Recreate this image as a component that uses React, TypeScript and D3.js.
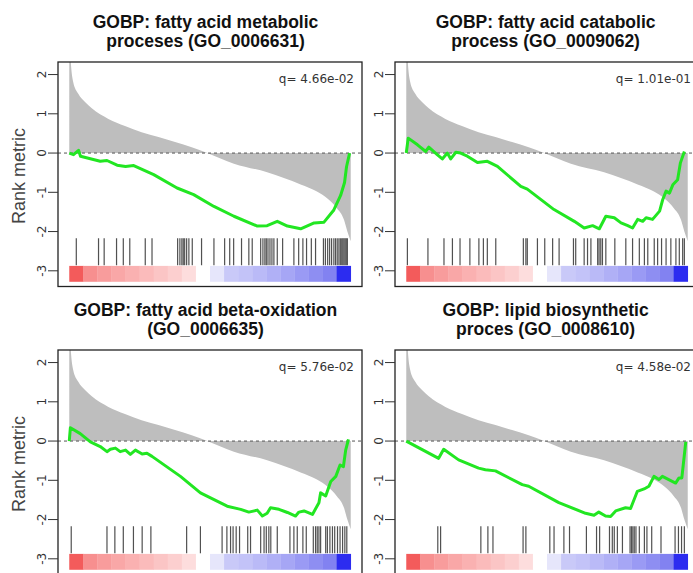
import React from 'react';
import * as d3 from 'd3';

const W = 693, H = 573;

// ranked gene list metric (same list in every panel)
const rankPos = [0, 0.004, 0.014, 0.032, 0.056, 0.08, 0.139, 0.198, 0.257, 0.317, 0.376, 0.435, 0.49, 0.585, 0.703, 0.822, 0.88, 0.916, 0.95, 0.976, 0.988, 1];
const rankVal = [3.5, 2.5, 1.81, 1.51, 1.3, 1.14, 0.87, 0.69, 0.53, 0.41, 0.28, 0.15, 0.0, -0.27, -0.49, -0.8, -0.98, -1.15, -1.4, -1.7, -2.0, -2.25];

const titles = [
  ['GOBP: fatty acid metabolic', 'proceses (GO_0006631)'],
  ['GOBP: fatty acid catabolic', 'process (GO_0009062)'],
  ['GOBP: fatty acid beta-oxidation', '(GO_0006635)'],
  ['GOBP: lipid biosynthetic', 'proces (GO_0008610)'],
];
const qLabels = ['q= 4.66e-02', 'q= 1.01e-01', 'q= 5.76e-02', 'q= 4.58e-02'];

// running enrichment score, panel by panel
const es1Pos = [0, 0.015, 0.033, 0.04, 0.11, 0.134, 0.17, 0.2, 0.229, 0.3, 0.383, 0.442, 0.514, 0.585, 0.668, 0.703, 0.739, 0.775, 0.822, 0.87, 0.905, 0.94, 0.964, 0.978, 0.985, 0.996];
const es1Val = [0, -0.04, 0.07, -0.08, -0.21, -0.19, -0.31, -0.34, -0.32, -0.55, -0.89, -1.06, -1.36, -1.61, -1.86, -1.85, -1.74, -1.86, -1.93, -1.78, -1.76, -1.45, -1.08, -0.75, -0.35, 0];

const es2Pos = [0, 0.007, 0.04, 0.069, 0.08, 0.11, 0.128, 0.146, 0.158, 0.176, 0.193, 0.217, 0.253, 0.288, 0.324, 0.407, 0.43, 0.525, 0.597, 0.632, 0.662, 0.686, 0.709, 0.739, 0.763, 0.787, 0.804, 0.822, 0.84, 0.852, 0.875, 0.9, 0.911, 0.923, 0.935, 0.947, 0.964, 0.974, 0.988];
const es2Val = [0, 0.38, 0.21, 0.04, 0.15, -0.04, -0.15, 0, -0.15, 0.02, 0, -0.08, -0.24, -0.21, -0.34, -0.85, -0.92, -1.44, -1.74, -1.91, -1.85, -1.93, -1.61, -1.65, -1.78, -1.85, -1.91, -1.69, -1.74, -1.65, -1.69, -1.48, -1.19, -0.97, -1.02, -0.81, -0.68, -0.25, 0.04];

const es3Pos = [0, 0.004, 0.039, 0.075, 0.11, 0.134, 0.146, 0.164, 0.181, 0.2, 0.217, 0.235, 0.259, 0.276, 0.294, 0.395, 0.466, 0.561, 0.609, 0.638, 0.668, 0.686, 0.703, 0.715, 0.745, 0.775, 0.804, 0.816, 0.834, 0.864, 0.887, 0.893, 0.911, 0.929, 0.947, 0.962, 0.974, 0.982, 0.992];
const es3Val = [0, 0.34, 0.19, -0.02, -0.14, -0.27, -0.21, -0.18, -0.27, -0.23, -0.34, -0.23, -0.33, -0.31, -0.39, -0.9, -1.32, -1.66, -1.74, -1.81, -1.76, -1.91, -1.84, -1.7, -1.74, -1.82, -1.91, -1.81, -1.78, -1.87, -1.57, -1.32, -1.4, -1.03, -0.9, -0.61, -0.65, -0.23, 0.04];

const es4Pos = [0, 0.115, 0.133, 0.186, 0.257, 0.281, 0.317, 0.412, 0.435, 0.542, 0.637, 0.667, 0.684, 0.708, 0.726, 0.744, 0.779, 0.797, 0.821, 0.845, 0.862, 0.88, 0.898, 0.91, 0.957, 0.969, 0.979, 0.993];
const es4Val = [0, -0.44, -0.21, -0.48, -0.69, -0.73, -0.76, -1.11, -1.15, -1.57, -1.84, -1.89, -1.81, -1.91, -1.92, -1.78, -1.7, -1.72, -1.28, -1.22, -1.15, -0.9, -0.98, -0.9, -1.07, -0.94, -0.94, -0.02];

// positions of gene-set members in the ranked list
const hits1 = [0.025, 0.104, 0.124, 0.168, 0.192, 0.215, 0.27, 0.294, 0.385, 0.393, 0.4, 0.405, 0.41, 0.417, 0.425, 0.437, 0.47, 0.514, 0.552, 0.57, 0.584, 0.612, 0.638, 0.65, 0.68, 0.688, 0.695, 0.7, 0.706, 0.713, 0.72, 0.727, 0.739, 0.758, 0.798, 0.815, 0.83, 0.843, 0.86, 0.875, 0.903, 0.91, 0.918, 0.925, 0.932, 0.94, 0.946, 0.952, 0.958, 0.963, 0.968, 0.972, 0.976, 0.98, 0.984, 0.988];
const hits2 = [0.004, 0.077, 0.134, 0.164, 0.191, 0.226, 0.258, 0.274, 0.288, 0.318, 0.416, 0.425, 0.43, 0.466, 0.492, 0.52, 0.543, 0.594, 0.602, 0.632, 0.644, 0.656, 0.68, 0.685, 0.691, 0.697, 0.709, 0.741, 0.78, 0.804, 0.828, 0.846, 0.858, 0.881, 0.893, 0.907, 0.923, 0.94, 0.958, 0.97, 0.982, 0.988];
const hits3 = [0.007, 0.134, 0.162, 0.192, 0.228, 0.259, 0.29, 0.417, 0.466, 0.543, 0.56, 0.573, 0.582, 0.593, 0.605, 0.634, 0.644, 0.68, 0.692, 0.7, 0.709, 0.716, 0.739, 0.784, 0.798, 0.81, 0.83, 0.842, 0.867, 0.875, 0.881, 0.887, 0.893, 0.911, 0.917, 0.926, 0.935, 0.943, 0.953, 0.962, 0.971, 0.979, 0.986];
const hits4 = [0.112, 0.122, 0.265, 0.29, 0.308, 0.415, 0.425, 0.51, 0.525, 0.56, 0.58, 0.64, 0.676, 0.687, 0.722, 0.732, 0.739, 0.75, 0.768, 0.795, 0.8, 0.805, 0.81, 0.816, 0.828, 0.846, 0.855, 0.872, 0.905, 0.955, 0.967, 0.978, 0.988];

// ranked-list colour bar, red (top) to blue (bottom)
const barColors = ['#f35b5b', '#f78f8f', '#f89c9c', '#f9a7a7', '#fab1b1', '#fbbbbb', '#fbc5c5', '#fccfcf', '#fddddd', '#ffffff', '#e6e6fb', '#c9c9f8', '#c3c3f8', '#babaf7', '#b0b0f6', '#a6a6f5', '#9a9af4', '#8e8ef2', '#8282f1', '#2c2cf0'];

const yTicks = [-3, -2, -1, 0, 1, 2];

const esPos = [es1Pos, es2Pos, es3Pos, es4Pos];
const esVal = [es1Val, es2Val, es3Val, es4Val];
const hits = [hits1, hits2, hits3, hits4];
const colDx = [0, 337];
const rowDy = [0, 288];
const titleCx = [205.5, 545.6];

const box = { left: 58, right: 362, top: 62, bottom: 286.5 };

function Panel({ i }: { i: number }) {
  const col = i % 2, row = Math.floor(i / 2);
  const dx = colDx[col], dy = rowDy[row];
  const x = d3.scaleLinear().domain([-0.04, 1.04]).range([box.left + dx, box.right + dx]);
  const y = d3.scaleLinear().domain([-3.4, 2.32]).range([box.bottom + dy, box.top + dy]);

  const rank = rankPos.map((p, k) => [p, rankVal[k]] as [number, number]);
  const area = d3.area<[number, number]>()
    .x(d => x(d[0])).y0(y(0)).y1(d => y(d[1]))
    .curve(d3.curveMonotoneX);
  const es = esPos[i].map((p, k) => [p, esVal[i][k]] as [number, number]);
  const line = d3.line<[number, number]>().x(d => x(d[0])).y(d => y(d[1]));

  const band = d3.scaleBand<number>().domain(d3.range(barColors.length)).range([x(0), x(1)]);
  const clipId = `clip${i}`;
  const bx = box.left + dx, by = box.top + dy;
  const bw = box.right - box.left, bh = box.bottom - box.top;

  return (
    <g>
      <defs>
        <clipPath id={clipId}><rect x={bx} y={by} width={bw} height={bh} /></clipPath>
      </defs>
      <text x={titleCx[col]} y={28 + dy} textAnchor="middle" fontFamily="Liberation Sans, Arial, sans-serif"
        fontWeight="bold" fontSize={17.5} fill="#111">{titles[i][0]}</text>
      <text x={titleCx[col]} y={47 + dy} textAnchor="middle" fontFamily="Liberation Sans, Arial, sans-serif"
        fontWeight="bold" fontSize={17.5} fill="#111">{titles[i][1]}</text>
      <g clipPath={`url(#${clipId})`}>
        <path d={area(rank) || ''} fill="#bebebe" />
        <line x1={bx} x2={bx + bw} y1={y(0)} y2={y(0)} stroke="#555" strokeDasharray="3,3" strokeWidth={1} />
        {hits[i].map((h, k) => (
          <line key={k} x1={x(h)} x2={x(h)} y1={y(-2.17)} y2={y(-2.86)} stroke="#333" strokeOpacity={0.85} strokeWidth={1.2} />
        ))}
        {barColors.map((c, k) => (
          <rect key={k} x={band(k)} y={y(-2.875)} width={band.bandwidth() + 0.3} height={y(-3.28) - y(-2.875)} fill={c} />
        ))}
        <path d={line(es) || ''} fill="none" stroke="#22e622" strokeWidth={3} strokeLinejoin="round" />
      </g>
      <rect x={bx} y={by} width={bw} height={bh} fill="none" stroke="#222" strokeWidth={1.3} />
      {yTicks.map(t => (
        <g key={t}>
          <line x1={bx - 10} x2={bx} y1={y(t)} y2={y(t)} stroke="#333" strokeWidth={1} />
          <text transform={`translate(${bx - 12},${y(t)}) rotate(-90)`} textAnchor="middle"
            fontFamily="DejaVu Sans, sans-serif" fontSize={12} fill="#333">{t}</text>
        </g>
      ))}
      <text x={box.right + dx - 8} y={by + 21} textAnchor="end" fontFamily="DejaVu Sans, sans-serif"
        fontSize={12} fill="#333">{qLabels[i]}</text>
      {col === 0 && (
        <text transform={`translate(25,${176 + dy}) rotate(-90)`} textAnchor="middle"
          fontFamily="Liberation Sans, Arial, sans-serif" fontSize={18} fill="#444">Rank metric</text>
      )}
    </g>
  );
}

export default function App() {
  return (
    <svg width={W} height={H} style={{ position: 'absolute', left: 0, top: 0, background: '#fff' }}>
      <rect width={W} height={H} fill="#fff" />
      {[0, 1, 2, 3].map(i => <Panel key={i} i={i} />)}
    </svg>
  );
}
